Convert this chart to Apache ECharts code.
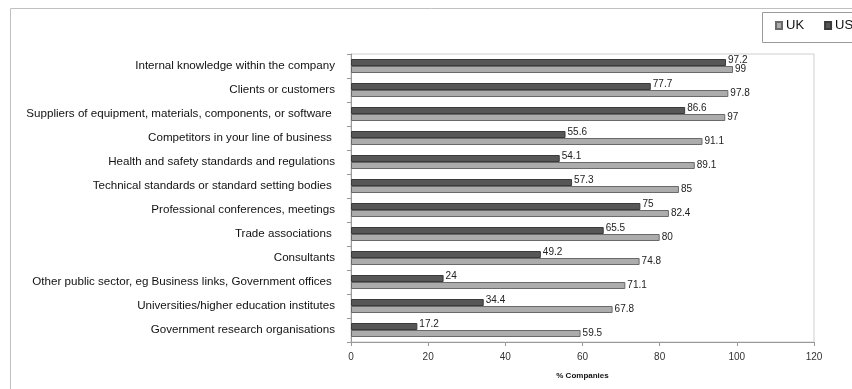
<!DOCTYPE html>
<html><head><meta charset="utf-8">
<script src="https://cdn.jsdelivr.net/npm/echarts@6/dist/echarts.min.js"></script>
<style>html,body{margin:0;padding:0;background:#fff}#c{width:852px;height:389px}</style>
</head><body><div id="c"></div>
<script>
var categories = [
  "Internal knowledge within the company",
  "Clients or customers",
  "Suppliers of equipment, materials, components, or software ",
  "Competitors in your line of business ",
  "Health and safety standards and regulations",
  "Technical standards or standard setting bodies ",
  "Professional conferences, meetings",
  "Trade associations ",
  "Consultants",
  "Other public sector, eg Business links, Government offices ",
  "Universities/higher education institutes",
  "Government research organisations"
];
var ukValues = [99, 97.8, 97, 91.1, 89.1, 85, 82.4, 80, 74.8, 71.1, 67.8, 59.5];
var usValues = [97.2, 77.7, 86.6, 55.6, 54.1, 57.3, 75, 65.5, 49.2, 24, 34.4, 17.2];
var seriesNames = ["UK", "US"];
var axisName = "% Companies";

var chart = echarts.init(document.getElementById('c'));
var font = 'Liberation Sans, Arial, sans-serif';
chart.setOption({
  animation: false,
  textStyle: {fontFamily: font},
  graphic: [
    {type: 'rect', shape: {x: 10.5, y: 8.5, width: 900, height: 500},
     style: {fill: 'none', stroke: '#c0c0c0', lineWidth: 1}, z: -10},
    {type: 'rect', shape: {x: 762.5, y: 12.5, width: 200, height: 30},
     style: {fill: '#fff', stroke: '#9a9a9a', lineWidth: 1}, z: -5}
  ],
  legend: {
    left: 775, top: 19,
    width: 300,
    orient: 'horizontal',
    padding: 0,
    itemGap: 20,
    itemWidth: 6, itemHeight: 7,
    icon: 'rect',
    textStyle: {fontSize: 13, color: '#111', fontFamily: font, padding: [0, 0, 0, -1]},
    data: seriesNames
  },
  grid: {left: 351, right: 38, top: 54, bottom: 47, show: true, borderColor: '#cfcfcf', borderWidth: 1},
  xAxis: {
    type: 'value', min: 0, max: 120, interval: 20,
    name: axisName, nameLocation: 'middle', nameGap: 30,
    nameTextStyle: {fontSize: 8, fontWeight: 'bold', color: '#111'},
    axisLine: {show: true, lineStyle: {color: '#999'}},
    axisTick: {show: true, length: 4, lineStyle: {color: '#999'}},
    axisLabel: {fontSize: 10, color: '#333', margin: 10},
    splitLine: {show: false}
  },
  yAxis: {
    type: 'category', data: categories, inverse: true,
    axisLine: {show: true, lineStyle: {color: '#999'}},
    axisTick: {show: true, length: 4, lineStyle: {color: '#999'}},
    axisLabel: {fontSize: 11.6, color: '#111', margin: 16}
  },
  series: [
    {
      name: 'US', type: 'bar', data: usValues, barWidth: 7, barGap: '0%',
      itemStyle: {color: '#575757', borderColor: '#3a3a3a', borderWidth: 1},
      label: {show: true, position: 'right', distance: 2, fontSize: 10, color: '#222', offset: [0, -2]}
    },
    {
      name: 'UK', type: 'bar', data: ukValues, barWidth: 7, barGap: '0%',
      itemStyle: {color: '#acacac', borderColor: '#6a6a6a', borderWidth: 1},
      label: {show: true, position: 'right', distance: 2, fontSize: 10, color: '#222'}
    }
  ]
});
</script></body></html>
